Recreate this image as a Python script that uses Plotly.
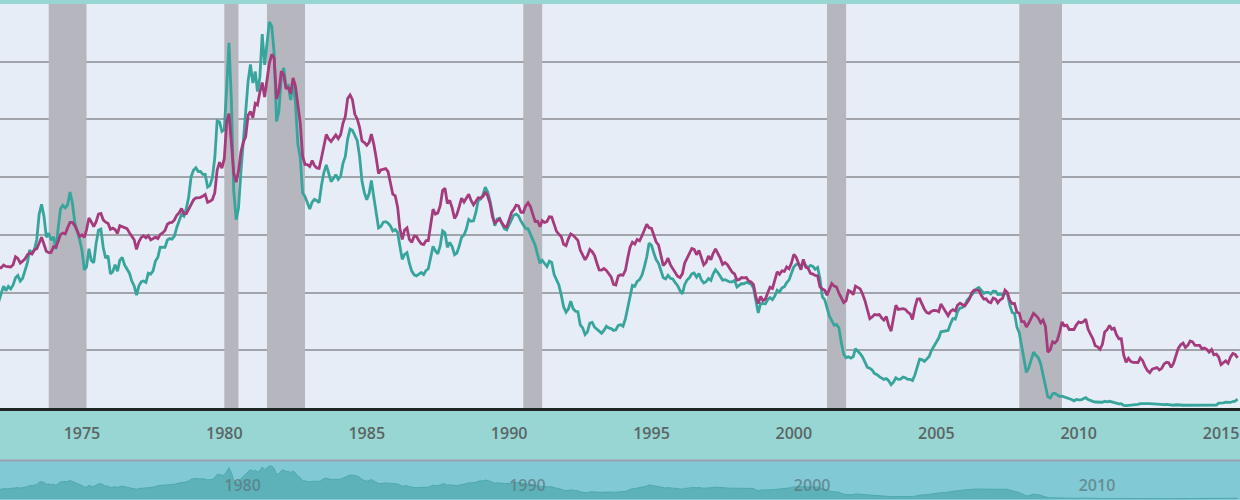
import pandas as pd
import plotly.graph_objects as go

# ---------------- data (monthly, starting Jan 1972) ----------------
start_month = "1972-01-01"

ten_year = [
    5.95, 6.08, 6.07, 6.19, 6.13, 6.11, 6.11, 6.21, 6.55, 6.48, 6.28, 6.36,
    6.46, 6.64, 6.71, 6.67, 6.85, 6.90, 7.13, 7.40, 7.09, 6.79, 6.73, 6.74,
    6.99, 6.96, 7.21, 7.51, 7.58, 7.54, 7.81, 8.04, 8.04, 7.90, 7.68, 7.43,
    7.50, 7.39, 7.73, 8.23, 8.06, 7.86, 8.06, 8.40, 8.43, 8.15, 8.05, 8.00,
    7.74, 7.79, 7.73, 7.56, 7.90, 7.86, 7.83, 7.77, 7.59, 7.41, 7.29, 6.87,
    7.21, 7.39, 7.46, 7.37, 7.46, 7.28, 7.33, 7.40, 7.34, 7.52, 7.58, 7.69,
    7.96, 8.03, 8.04, 8.15, 8.35, 8.46, 8.64, 8.41, 8.42, 8.64, 8.81, 9.01,
    9.10, 9.10, 9.12, 9.18, 9.25, 8.91, 8.95, 9.03, 9.33, 10.30, 10.65, 10.39,
    10.80, 12.41, 12.75, 11.47, 10.18, 9.78, 10.25, 11.10, 11.51, 11.75, 12.68, 12.84,
    12.57, 13.19, 13.12, 13.68, 14.10, 13.47, 14.28, 14.94, 15.32, 15.15, 13.39, 13.72,
    14.59, 14.43, 13.86, 13.87, 13.62, 14.30, 13.95, 13.06, 12.34, 10.91, 10.55, 10.54,
    10.46, 10.72, 10.51, 10.40, 10.38, 10.85, 11.38, 11.85, 11.65, 11.54, 11.69, 11.83,
    11.67, 11.84, 12.32, 12.63, 13.41, 13.56, 13.36, 12.72, 12.52, 12.16, 11.57, 11.50,
    11.38, 11.51, 11.86, 11.43, 10.85, 10.16, 10.31, 10.33, 10.37, 10.24, 9.78, 9.26,
    9.19, 8.70, 7.78, 7.30, 7.71, 7.80, 7.30, 7.17, 7.45, 7.43, 7.25, 7.11,
    7.08, 7.25, 7.25, 8.02, 8.61, 8.40, 8.45, 8.76, 9.42, 9.52, 8.86, 8.99,
    8.67, 8.21, 8.37, 8.72, 9.09, 8.92, 9.06, 9.26, 8.98, 8.80, 8.96, 9.11,
    9.09, 9.17, 9.36, 9.18, 8.86, 8.28, 8.02, 8.11, 8.19, 8.01, 7.87, 7.84,
    8.21, 8.47, 8.59, 8.79, 8.76, 8.48, 8.47, 8.75, 8.89, 8.72, 8.39, 8.08,
    8.09, 7.85, 8.11, 8.04, 8.07, 8.28, 8.27, 7.90, 7.65, 7.53, 7.42, 7.09,
    7.03, 7.34, 7.54, 7.48, 7.39, 7.26, 6.84, 6.59, 6.42, 6.59, 6.87, 6.77,
    6.60, 6.26, 5.98, 5.97, 6.04, 5.96, 5.81, 5.68, 5.36, 5.33, 5.72, 5.77,
    5.75, 5.97, 6.48, 6.97, 7.18, 7.10, 7.30, 7.24, 7.46, 7.74, 7.96, 7.81,
    7.78, 7.47, 7.20, 7.06, 6.63, 6.17, 6.28, 6.49, 6.20, 6.04, 5.93, 5.71,
    5.65, 5.81, 6.27, 6.51, 6.74, 6.91, 6.87, 6.64, 6.83, 6.53, 6.20, 6.30,
    6.58, 6.42, 6.69, 6.89, 6.71, 6.49, 6.22, 6.30, 6.21, 6.03, 5.88, 5.81,
    5.54, 5.57, 5.65, 5.64, 5.65, 5.50, 5.46, 5.34, 4.81, 4.53, 4.83, 4.65,
    4.72, 5.00, 5.23, 5.18, 5.54, 5.90, 5.79, 5.94, 5.92, 6.11, 6.03, 6.28,
    6.66, 6.52, 6.26, 5.99, 6.44, 6.10, 6.05, 5.83, 5.80, 5.74, 5.72, 5.24,
    5.16, 5.10, 4.89, 5.14, 5.39, 5.28, 5.24, 4.97, 4.73, 4.57, 4.65, 5.09,
    5.04, 4.91, 5.28, 5.21, 5.16, 4.93, 4.65, 4.26, 3.87, 3.94, 4.05, 4.03,
    4.05, 3.90, 3.81, 3.96, 3.57, 3.33, 3.98, 4.45, 4.27, 4.29, 4.30, 4.27,
    4.15, 4.08, 3.83, 4.35, 4.72, 4.73, 4.50, 4.28, 4.13, 4.10, 4.19, 4.23,
    4.22, 4.17, 4.50, 4.34, 4.14, 4.00, 4.18, 4.26, 4.20, 4.46, 4.54, 4.47,
    4.42, 4.57, 4.72, 4.99, 5.11, 5.11, 5.09, 4.88, 4.72, 4.73, 4.60, 4.56,
    4.76, 4.72, 4.56, 4.69, 4.75, 5.10, 5.00, 4.67, 4.52, 4.53, 4.15, 4.10,
    3.74, 3.74, 3.51, 3.68, 3.88, 4.10, 4.01, 3.89, 3.69, 3.81, 3.53, 2.42,
    2.52, 2.87, 2.82, 2.93, 3.29, 3.72, 3.56, 3.59, 3.40, 3.39, 3.40, 3.59,
    3.73, 3.69, 3.73, 3.85, 3.42, 3.20, 3.01, 2.70, 2.65, 2.54, 2.76, 3.29,
    3.39, 3.58, 3.41, 3.46, 3.17, 3.00, 3.00, 2.30, 1.98, 2.15, 2.01, 1.98,
    1.97, 1.97, 2.17, 2.05, 1.80, 1.62, 1.53, 1.68, 1.72, 1.75, 1.65, 1.72,
    1.91, 1.98, 1.96, 1.76, 1.93, 2.30, 2.58, 2.74, 2.81, 2.62, 2.72, 2.90,
    2.86, 2.71, 2.72, 2.71, 2.56, 2.60, 2.54, 2.42, 2.53, 2.30, 2.33, 2.21,
    1.88, 1.98, 2.04, 1.94, 2.20, 2.36, 2.32, 2.17,
]

one_year = [
    4.28, 4.67, 4.96, 5.28, 5.08, 5.27, 5.16, 5.33, 5.64, 5.74, 5.50, 5.62,
    5.94, 6.29, 6.84, 6.71, 6.85, 7.31, 8.39, 8.82, 8.31, 7.40, 7.57, 7.27,
    7.42, 6.88, 7.76, 8.62, 8.78, 8.67, 8.80, 9.36, 8.87, 8.05, 7.66, 7.31,
    6.83, 5.98, 6.11, 6.90, 6.39, 6.29, 7.11, 7.70, 7.75, 6.95, 6.49, 6.60,
    5.81, 5.91, 6.21, 5.92, 6.40, 6.52, 6.20, 6.00, 5.84, 5.50, 5.29, 4.89,
    5.29, 5.47, 5.50, 5.44, 5.84, 5.80, 5.94, 6.37, 6.53, 6.97, 6.95, 6.96,
    7.28, 7.34, 7.31, 7.45, 7.82, 8.09, 8.39, 8.31, 8.64, 9.14, 10.01, 10.30,
    10.41, 10.24, 10.25, 10.12, 10.12, 9.57, 9.64, 9.98, 10.84, 12.44, 12.39, 11.98,
    12.06, 13.92, 15.82, 13.30, 9.39, 8.16, 8.65, 10.24, 11.52, 12.49, 14.15, 14.88,
    14.08, 14.57, 13.71, 14.32, 16.20, 14.86, 15.72, 16.72, 16.52, 15.38, 12.41, 12.85,
    14.32, 14.73, 13.95, 13.98, 13.34, 14.07, 13.24, 11.43, 10.85, 9.32, 9.16, 8.91,
    8.62, 8.92, 9.04, 8.98, 8.90, 9.66, 10.20, 10.53, 10.16, 9.81, 9.94, 10.11,
    9.90, 10.04, 10.59, 10.90, 11.66, 12.08, 12.03, 11.82, 11.58, 10.90, 9.82, 9.33,
    9.02, 9.29, 9.86, 9.14, 8.46, 7.80, 7.86, 8.05, 8.07, 8.01, 7.88, 7.67,
    7.73, 7.61, 7.03, 6.44, 6.65, 6.73, 6.27, 5.93, 5.77, 5.72, 5.80, 5.87,
    5.78, 5.96, 6.03, 6.50, 7.00, 6.80, 6.68, 7.03, 7.67, 7.59, 6.96, 7.17,
    6.99, 6.64, 6.71, 7.01, 7.40, 7.49, 7.75, 8.17, 8.09, 8.11, 8.48, 8.99,
    9.05, 9.25, 9.57, 9.36, 8.98, 8.44, 7.89, 8.18, 8.22, 7.99, 7.77, 7.72,
    7.92, 8.11, 8.35, 8.40, 8.32, 8.10, 7.94, 7.78, 7.76, 7.55, 7.31, 7.05,
    6.64, 6.27, 6.40, 6.24, 6.13, 6.36, 6.31, 5.78, 5.57, 5.33, 4.89, 4.38,
    4.15, 4.29, 4.63, 4.30, 4.19, 4.17, 3.60, 3.47, 3.18, 3.30, 3.68, 3.71,
    3.50, 3.39, 3.33, 3.24, 3.36, 3.54, 3.47, 3.44, 3.36, 3.39, 3.58, 3.61,
    3.54, 3.87, 4.32, 4.82, 5.31, 5.27, 5.48, 5.56, 5.76, 6.11, 6.54, 7.14,
    7.05, 6.70, 6.43, 6.27, 6.00, 5.64, 5.59, 5.75, 5.62, 5.59, 5.43, 5.31,
    5.09, 4.94, 5.34, 5.54, 5.64, 5.81, 5.85, 5.67, 5.83, 5.55, 5.42, 5.47,
    5.61, 5.53, 5.80, 5.99, 5.87, 5.69, 5.54, 5.56, 5.52, 5.46, 5.46, 5.53,
    5.24, 5.31, 5.39, 5.38, 5.44, 5.41, 5.36, 5.21, 4.71, 4.12, 4.53, 4.52,
    4.51, 4.70, 4.78, 4.69, 4.85, 5.10, 5.03, 5.20, 5.25, 5.43, 5.55, 5.84,
    6.12, 6.22, 6.22, 6.15, 6.33, 6.17, 6.08, 6.18, 6.13, 6.01, 6.09, 5.60,
    4.81, 4.68, 4.30, 3.98, 3.78, 3.58, 3.62, 3.47, 2.82, 2.33, 2.18, 2.22,
    2.16, 2.23, 2.57, 2.48, 2.35, 2.20, 1.96, 1.76, 1.72, 1.65, 1.49, 1.45,
    1.36, 1.30, 1.24, 1.27, 1.18, 1.01, 1.12, 1.31, 1.24, 1.25, 1.34, 1.31,
    1.24, 1.24, 1.19, 1.43, 1.78, 2.12, 2.10, 2.02, 2.12, 2.23, 2.50, 2.67,
    2.86, 3.03, 3.30, 3.32, 3.33, 3.36, 3.64, 3.87, 3.85, 4.18, 4.33, 4.35,
    4.45, 4.68, 4.77, 4.90, 5.00, 5.16, 5.22, 5.08, 4.97, 5.01, 5.01, 4.94,
    5.06, 5.05, 4.92, 4.93, 4.91, 4.96, 4.96, 4.47, 4.14, 4.10, 3.50, 3.26,
    2.71, 2.05, 1.54, 1.74, 2.06, 2.42, 2.28, 2.18, 1.91, 1.42, 1.07, 0.49,
    0.44, 0.62, 0.64, 0.55, 0.50, 0.51, 0.48, 0.46, 0.40, 0.37, 0.31, 0.37,
    0.35, 0.35, 0.40, 0.45, 0.37, 0.32, 0.29, 0.26, 0.26, 0.23, 0.25, 0.29,
    0.27, 0.29, 0.26, 0.25, 0.19, 0.18, 0.19, 0.11, 0.10, 0.11, 0.11, 0.12,
    0.12, 0.16, 0.19, 0.18, 0.19, 0.19, 0.19, 0.18, 0.18, 0.18, 0.18, 0.16,
    0.15, 0.16, 0.15, 0.12, 0.12, 0.14, 0.12, 0.13, 0.12, 0.12, 0.12, 0.13,
    0.12, 0.12, 0.13, 0.11, 0.10, 0.10, 0.11, 0.11, 0.11, 0.10, 0.13, 0.21,
    0.20, 0.22, 0.25, 0.23, 0.24, 0.28, 0.30, 0.38,
]

recession_starts = ["1973-11-01", "1980-01-01", "1981-07-01", "1990-07-01", "2001-03-01", "2007-12-01"]
recession_ends = ["1975-03-01", "1980-07-01", "1982-11-01", "1991-03-01", "2001-11-01", "2009-06-01"]

x_range = ["1972-02-15", "2015-09-01"]
y_range = [0, 17.5]

ten_dates = pd.date_range(start_month, periods=len(ten_year), freq="MS")
one_dates = pd.date_range(start_month, periods=len(one_year), freq="MS")

# ---------------- colours ----------------
C_TEN = "#a43b7d"
C_ONE = "#37a59c"
C_PLOT_BG = "#e7edf6"
C_BAND = "#98d6d3"
C_NAV_BG = "#80c9d5"
C_NAV_FILL = "#5db2b9"
C_REC = "#b6b7be"

fig = go.Figure()

# recession bands as filled traces (above gridlines, below lines)
for s, e in zip(recession_starts, recession_ends):
    fig.add_trace(go.Scatter(
        x=[s, s, e, e, s], y=[y_range[0], y_range[1], y_range[1], y_range[0], y_range[0]],
        mode="lines", fill="toself", fillcolor=C_REC, line=dict(width=0, color=C_REC),
        xaxis="x", yaxis="y", hoverinfo="skip", showlegend=False))

fig.add_trace(go.Scatter(
    x=one_dates, y=one_year, mode="lines",
    line=dict(color=C_ONE, width=2.8), xaxis="x", yaxis="y",
    name="1-Year Treasury", hoverinfo="skip"))
fig.add_trace(go.Scatter(
    x=ten_dates, y=ten_year, mode="lines",
    line=dict(color=C_TEN, width=2.8), xaxis="x", yaxis="y",
    name="10-Year Treasury", hoverinfo="skip"))

# navigator mini chart
fig.add_trace(go.Scatter(
    x=one_dates, y=one_year, mode="lines", fill="tozeroy",
    fillcolor=C_NAV_FILL, line=dict(color="#4fa8b0", width=1),
    xaxis="x2", yaxis="y2", hoverinfo="skip", showlegend=False))

main_bottom, main_top = 0.184, 0.992
nav_bottom, nav_top = 0.0, 0.078

shapes = [
    # main plot background
    dict(type="rect", xref="paper", yref="paper", x0=0, x1=1, y0=main_bottom, y1=main_top,
         fillcolor=C_PLOT_BG, line=dict(width=0), layer="below"),
    # navigator background
    dict(type="rect", xref="paper", yref="paper", x0=0, x1=1, y0=nav_bottom, y1=nav_top,
         fillcolor=C_NAV_BG, line=dict(width=0), layer="below"),
    # navigator separator
    dict(type="line", xref="paper", yref="paper", x0=0, x1=1, y0=0.079, y1=0.079,
         line=dict(color="#9a9db4", width=2), layer="above"),
]

fig.update_layout(
    width=1240, height=500, autosize=False,
    margin=dict(l=0, r=0, t=0, b=0, pad=0),
    paper_bgcolor=C_BAND, plot_bgcolor="rgba(0,0,0,0)",
    showlegend=False, hovermode=False,
    shapes=shapes,
    xaxis=dict(
        domain=[0, 1], anchor="y", type="date", range=x_range,
        showgrid=False, zeroline=False,
        showline=True, linecolor="#1f2424", linewidth=3,
        ticks="", tick0="1975-01-01", dtick="M60", tickformat="%Y",
        tickfont=dict(family="Open Sans", size=16, color="#5a6565", weight=600),
        ticklabelstandoff=9,
    ),
    yaxis=dict(
        domain=[main_bottom, main_top], anchor="x", range=y_range,
        dtick=2.5, tick0=0, showgrid=True, gridcolor="#a2a4ab", gridwidth=1.5,
        zeroline=False, showticklabels=False, showline=False, ticks="",
    ),
    xaxis2=dict(
        domain=[0, 1], anchor="y2", type="date", range=x_range,
        showgrid=False, zeroline=False, showline=False,
        ticks="", tick0="1980-01-01", dtick="M120", tickformat="%Y",
        ticklabelposition="inside right",
        tickfont=dict(family="Open Sans", size=16, color="rgba(90,115,120,0.7)", weight=600),
    ),
    yaxis2=dict(
        domain=[nav_bottom, nav_top], anchor="x2", range=[-0.5, 19.2],
        showgrid=False, zeroline=False, showticklabels=False, showline=False, ticks="",
    ),
)

fig.write_html("out.html", config={"displayModeBar": False},
               post_script="document.body.style.margin='0';")
